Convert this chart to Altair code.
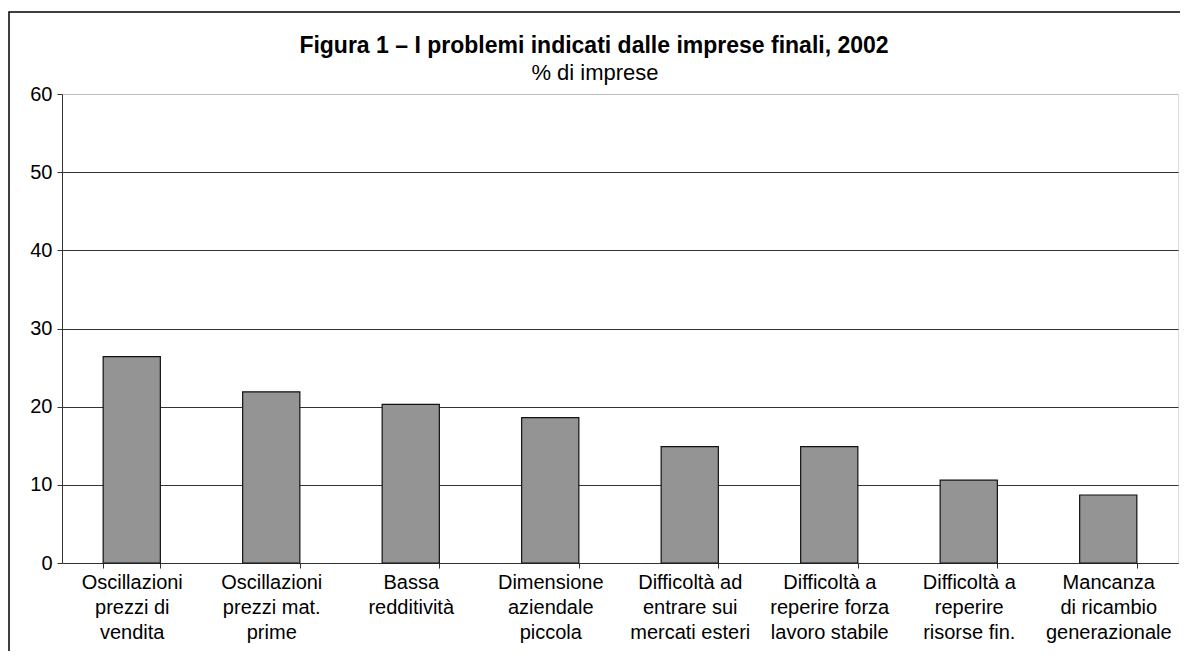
import altair as alt
import pandas as pd

categories = [
    "Oscillazioni|prezzi di|vendita",
    "Oscillazioni|prezzi mat.|prime",
    "Bassa|redditività",
    "Dimensione|aziendale|piccola",
    "Difficoltà ad|entrare sui|mercati esteri",
    "Difficoltà a|reperire forza|lavoro stabile",
    "Difficoltà a|reperire|risorse fin.",
    "Mancanza|di ricambio|generazionale",
]
values = [26.4, 21.9, 20.3, 18.6, 14.9, 14.9, 10.6, 8.7]
y_ticks = [0, 10, 20, 30, 40, 50, 60]
title_text = "Figura 1 – I problemi indicati dalle imprese finali, 2002"
subtitle_text = "% di imprese"

df = pd.DataFrame({"cat": categories, "val": values})
FONT = "Liberation Sans"
one = pd.DataFrame({"a": [0]})

frame = alt.Chart(one).mark_rect(
    fill="transparent", stroke="black", strokeWidth=1.5, clip=False
).encode(
    x=alt.value(-53), x2=alt.value(1300), y=alt.value(-82), y2=alt.value(800)
)

title = alt.Chart(one).mark_text(
    text=title_text, font=FONT, fontSize=23, fontWeight="bold", color="black",
    align="center", baseline="middle", clip=False
).encode(x=alt.value(532), y=alt.value(-48))

subtitle = alt.Chart(one).mark_text(
    text=subtitle_text, font=FONT, fontSize=22, color="black",
    align="center", baseline="middle", clip=False
).encode(x=alt.value(533), y=alt.value(-21))

bars = alt.Chart(df).mark_bar(
    color="#949494", stroke="#111111", strokeWidth=1.2
).encode(
    x=alt.X(
        "cat:N", sort=categories, title=None,
        scale=alt.Scale(paddingInner=0.59, paddingOuter=0.295),
        axis=alt.Axis(
            labelAngle=0, labelExpr="split(datum.label, '|')",
            labelFont=FONT, labelFontSize=20, labelColor="black",
            labelLineHeight=25, labelPadding=4, labelOverlap=False,
            labelBaseline="top", labelLimit=300,
            tickBand="extent", tickSize=5, tickColor="#333333",
            domainColor="#333333", grid=False,
        ),
    ),
    y=alt.Y(
        "val:Q", title=None,
        scale=alt.Scale(domain=[0, 60], nice=False),
        axis=alt.Axis(
            values=y_ticks, labelFont=FONT, labelFontSize=20, labelColor="black",
            labelPadding=5, tickSize=5, tickColor="#333333", domainColor="#333333",
            grid=True, gridWidth=1.2,
            gridColor={"condition": {"test": "datum.value === 60", "value": "#c0c0c0"},
                       "value": "#333333"},
        ),
    ),
)

chart = alt.layer(frame, title, subtitle, bars).properties(
    width=1116, height=469,
    padding={"left": 54, "top": 86, "right": 2, "bottom": 88},
    autosize=alt.AutoSizeParams(type="none"),
).configure_view(stroke=None).configure(background="white")

chart.save("out.html", embed_options={"renderer": "svg", "actions": False})
